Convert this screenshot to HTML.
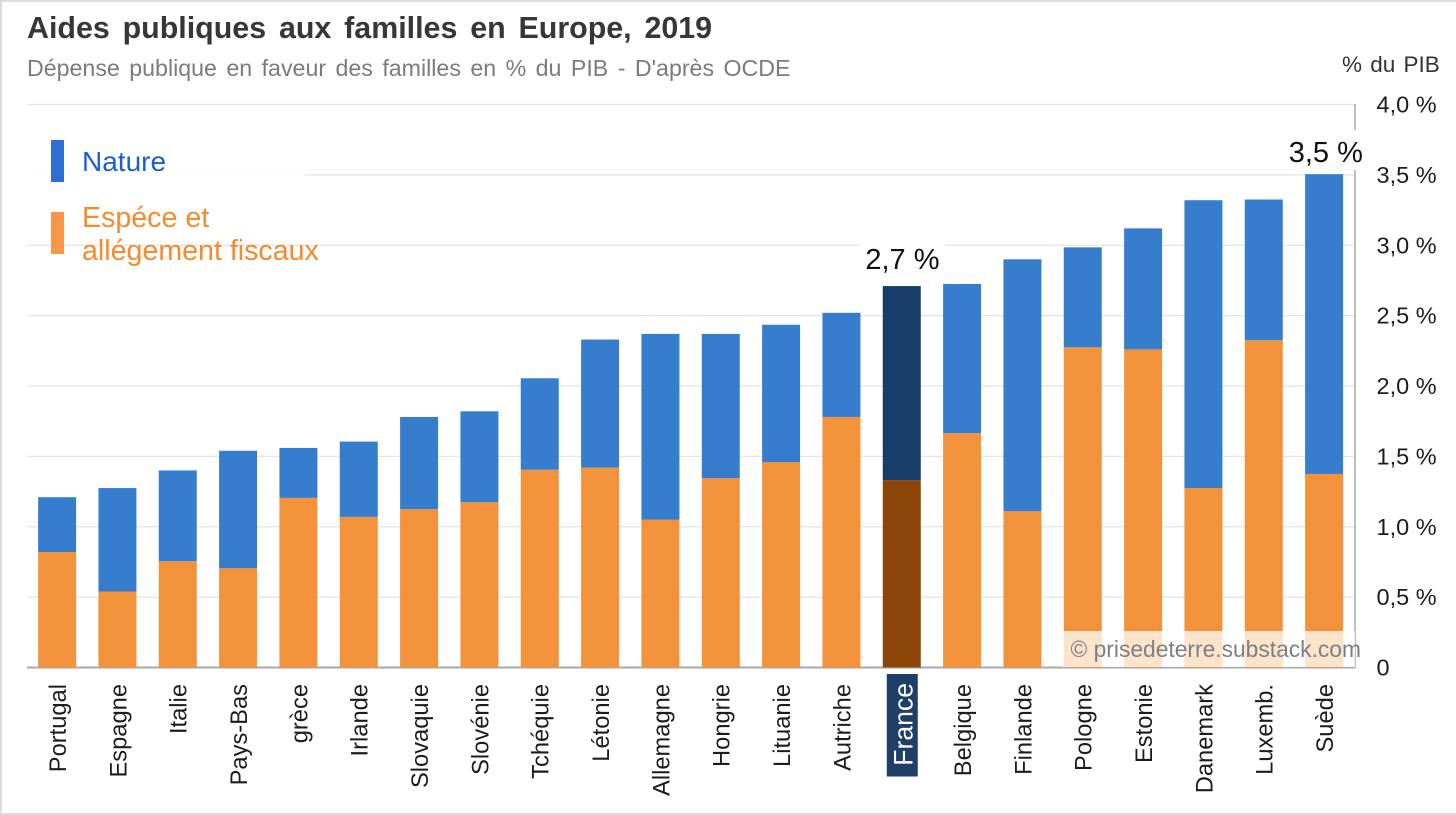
<!DOCTYPE html>
<html lang="fr">
<head>
<meta charset="utf-8">
<title>Aides publiques aux familles en Europe, 2019</title>
<style>
html,body{margin:0;padding:0;background:#fff;width:1456px;height:815px;overflow:hidden}
svg{display:block;font-family:"Liberation Sans",Arial,sans-serif}
</style>
</head>
<body>
<svg id="chart" xmlns="http://www.w3.org/2000/svg" width="1456" height="815" viewBox="0 0 1456 815">
  <rect x="0" y="0" width="1456" height="815" fill="#fff"/>
  <rect x="0" y="0" width="1456" height="2" fill="#dcdcdc"/>
  <rect x="0" y="0" width="2" height="815" fill="#dcdcdc"/>
  <rect x="0" y="813" width="1456" height="2" fill="#dcdcdc"/>
  <text x="27" y="38" font-size="30.4" font-weight="bold" fill="#373737" word-spacing="4.4">Aides publiques aux familles en Europe, 2019</text>
  <text x="27" y="76" font-size="23.2" fill="#7b7b7b" word-spacing="3">Dépense publique en faveur des familles en % du PIB - D'après OCDE</text>
  <text x="1342" y="72" font-size="22.5" fill="#333" word-spacing="2">% du PIB</text>
  <g id="grid"></g>
  <line x1="1355" y1="104" x2="1355" y2="668" stroke="#a8a8a8" stroke-width="1.5"/>
  <line x1="27" y1="667.5" x2="1355" y2="667.5" stroke="#a8a8a8" stroke-width="2"/>
  <g id="bars"></g>
  <g id="ylabels"></g>
  <g id="xlabels"></g>
  <rect x="27" y="130" width="278" height="50" fill="#fff" fill-opacity="0.9"/>
  <rect x="51" y="140" width="13" height="42" fill="#2e6fd3"/>
  <text x="82" y="171" font-size="28" fill="#1a5fd0">Nature</text>
  <rect x="51" y="212" width="13" height="42" fill="#f79646"/>
  <text font-size="28.6" fill="#f58a2e"><tspan x="82" y="227">Espéce et</tspan><tspan x="82" y="260">allégement fiscaux</tspan></text>
  <g id="callouts"></g>
  <rect x="1062" y="631" width="293" height="36" fill="#fff" fill-opacity="0.74"/>
  <text x="1070.5" y="657" font-size="22.8" fill="#7f7f7f">© prisedeterre.substack.com</text>
</svg>
<script>
const categories = ["Portugal","Espagne","Italie","Pays-Bas","grèce","Irlande","Slovaquie","Slovénie","Tchéquie","Létonie","Allemagne","Hongrie","Lituanie","Autriche","France","Belgique","Finlande","Pologne","Estonie","Danemark","Luxemb.","Suède"];
const especeValues = [0.82,0.54,0.755,0.705,1.205,1.07,1.125,1.175,1.405,1.42,1.05,1.345,1.46,1.78,1.33,1.665,1.11,2.275,2.26,1.275,2.325,1.375];
const natureValues = [0.39,0.735,0.645,0.835,0.355,0.535,0.655,0.645,0.65,0.91,1.32,1.025,0.975,0.74,1.38,1.06,1.79,0.71,0.86,2.045,1.0,2.13];
const yTickValues = [0,0.5,1,1.5,2,2.5,3,3.5,4];
const yTickLabels = ["0","0,5 %","1,0 %","1,5 %","2,0 %","2,5 %","3,0 %","3,5 %","4,0 %"];
const highlightCategory = "France";
const calloutCategories = ["France","Suède"];
const calloutLabels = ["2,7 %","3,5 %"];

const NS = "http://www.w3.org/2000/svg";
const yScale = v => 667.5 - v * 140.75;
const xScale = i => 57.1 + i * (1267 / 21);
const barW = 38;

function mk(parent, tag, attrs, text) {
  const el = document.createElementNS(NS, tag);
  for (const k in attrs) el.setAttribute(k, attrs[k]);
  if (text !== undefined) el.textContent = text;
  parent.appendChild(el);
  return el;
}

const grid = document.getElementById("grid");
yTickValues.forEach(v => {
  if (v === 0) return;
  const l = mk(grid, "line", {x1:27, x2:1355, y1:yScale(v), y2:yScale(v), stroke:"#e4e4e4", "stroke-width":1.3});
  
  
});

const bars = document.getElementById("bars");
categories.forEach((c, i) => {
  const hi = c === highlightCategory;
  const x = xScale(i) - barW / 2;
  const e = especeValues[i], n = natureValues[i];
  const r1 = mk(bars, "rect", {x:x, width:barW, y:yScale(e), height:yScale(0)-yScale(e), fill:hi?"#8c4608":"#f2933c"});
  
  
  const r2 = mk(bars, "rect", {x:x, width:barW, y:yScale(e+n), height:yScale(e)-yScale(e+n), fill:hi?"#173d69":"#377dcd"});
  
  
});

const ylabels = document.getElementById("ylabels");
yTickValues.forEach((v, i) => {
  const t = mk(ylabels, "text", {x:1376.5, y:yScale(v)+8, "font-size":23.5, fill:"#1c1c1c"}, yTickLabels[i]);
  
  
});

const xlabels = document.getElementById("xlabels");
categories.forEach((c, i) => {
  const cx = xScale(i), hi = c === highlightCategory;
  if (hi) {
    const b = mk(xlabels, "rect", {x:cx-15, y:674, width:31, height:102.5, fill:"#1f3e68"});
    
    
  }
  const by = hi ? 683 : 684;
  const bx = cx + (hi ? 10.5 : 8.9);
  const t = mk(xlabels, "text", {transform:"translate("+bx+","+by+") rotate(-90)", "text-anchor":"end", "font-size":hi?26.6:23.7, fill:hi?"#fff":"#1c1c1c"}, c);
  
  
});

const callouts = document.getElementById("callouts");
calloutCategories.forEach((c, i) => {
  const k = categories.indexOf(c);
  const top = yScale(especeValues[k] + natureValues[k]);
  const cx = xScale(k) + (i === 0 ? 0.7 : 1.7);
  const bg = mk(callouts, "rect", {x:cx-43, y:top-44, width:86, height:40, fill:"#fff"});
  
  
  const t = mk(callouts, "text", {x:cx, y:top-(i === 0 ? 17 : 12), "text-anchor":"middle", "font-size":29, fill:"#111"}, calloutLabels[i]);
  
  
});
</script>
</body>
</html>
